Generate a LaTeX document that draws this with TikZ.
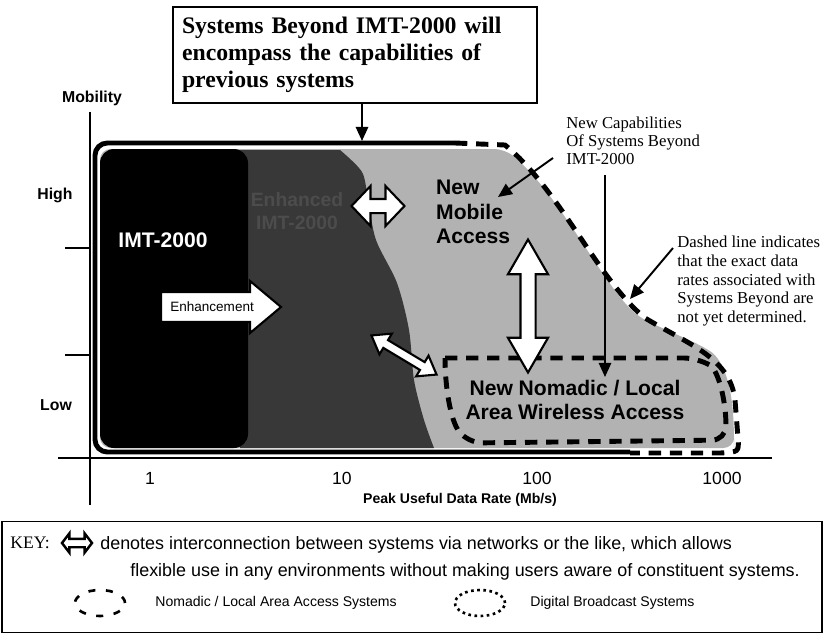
\documentclass[tikz,border=0pt]{standalone}
\usepackage{fontspec}
\setmainfont{Liberation Serif}
\setsansfont{Liberation Sans}
\usetikzlibrary{arrows.meta,shapes.arrows,shapes.geometric}

\tikzset{
  axislabel/.style={font=\sffamily\bfseries\fontsize{9}{10}\selectfont},
  ticklabel/.style={font=\sffamily\fontsize{10}{12}\selectfont},
  regionlabel/.style={font=\sffamily\bfseries\fontsize{12}{14}\selectfont},
  sidenote/.style={font=\fontsize{9.5}{10}\selectfont, align=left, inner sep=0pt},
  keytext/.style={font=\sffamily\fontsize{10.2}{11}\selectfont, anchor=west, inner sep=0pt},
  pointer/.style={line width=1.1pt, -{Triangle[length=8pt,width=7pt]}},
  beyonddash/.style={line width=2.8pt, dash pattern=on 7pt off 5pt},
  linkarrow/.style={double arrow, draw, fill=white, line width=1.2pt,
    inner xsep=0pt, minimum width=0pt}
}

\begin{document}
\begin{tikzpicture}[x=0.02cm, y=-0.02cm]
  \useasboundingbox (0,0) rectangle (829,640);

  % shaded areas
  \fill[black!30, rounded corners=6pt] (100,149) -- (505,149)
    .. controls (560,195) and (600,280) .. (640,318) -- (700,345)
    .. controls (725,360) and (733,390) .. (734,440) -- (734,448) -- (100,448) -- cycle;
  \fill[black!78] (240,150) -- plot[smooth] coordinates {(340,150) (362,172) (368,200)
    (376,240) (397,283) (409,330) (414,380) (424,420) (434,448)} -- (240,448) -- cycle;
  \fill[black, rounded corners=8pt] (100,149) rectangle (248,448);

  \node[font=\sffamily\bfseries\fontsize{12}{14}\selectfont, text=white] (imt) at (163,240) {IMT-2000};
  \node[font=\sffamily\bfseries\fontsize{11}{13}\selectfont, text=black!70, align=center] (enhanced) at (297,211) {Enhanced\\IMT-2000};
  \node[regionlabel, align=left, anchor=west] (mobileaccess) at (430,212) {New\\Mobile\\Access};
  \node[regionlabel, align=center] (nomadicaccess) at (575,400) {New Nomadic / Local\\Area Wireless Access};

  % outlines
  \draw[line width=2.8pt, rounded corners=7pt] (455,143) -- (95,143) -- (95,452) -- (630,452);
  \draw[beyonddash] (455,143) -- (505,145) .. controls (560,190) and (598,280) .. (645,318)
    .. controls (690,345) and (730,358) .. (735,400) -- (738,438)
    .. controls (739,452) .. (720,453) -- (630,453);
  \draw[beyonddash, rounded corners=8pt] (445,358) -- (698,358)
    .. controls (718,370) and (726,400) .. (726,440) -- (468,443)
    .. controls (450,420) and (445,385) .. (445,358);

  % white block arrows
  \node[single arrow, draw, fill=white, line width=1.2pt, anchor=tail, minimum height=2.4cm,
    inner xsep=2pt, inner ysep=0.18cm, single arrow head extend=0.22cm, single arrow tip angle=80,
    font=\sffamily\fontsize{7.7}{9}\selectfont] (enhancement) at (160,307) {Enhancement};
  \node[linkarrow, minimum height=1.06cm, inner ysep=0.12cm,
    double arrow head extend=0.26cm, double arrow tip angle=93] (mobilelink) at (378,206) {};
  \node[linkarrow, rotate=90, minimum height=2.66cm, inner ysep=0.13cm,
    double arrow head extend=0.25cm, double arrow tip angle=60] (accesslink) at (528,306) {};
  \node[linkarrow, rotate=-31, minimum height=1.52cm, inner ysep=0.07cm,
    double arrow head extend=0.15cm, double arrow tip angle=72] (nomadiclink) at (404,355) {};

  % title box
  \node[draw, line width=1.4pt, minimum width=7.28cm, minimum height=1.92cm, text width=6.92cm,
    inner xsep=0.18cm, align=left, font=\bfseries\fontsize{13.5}{15.2}\selectfont]
    (beyondbox) at (355,55) {Systems Beyond IMT-2000 will\\encompass the capabilities of\\previous systems};
  \coordinate (solidtop) at (362,141);
  \draw[pointer] (beyondbox.south -| solidtop) -- (solidtop);

  % side notes
  \node[sidenote, anchor=north west] (capnote) at (566,117) {New Capabilities\\Of Systems Beyond\\IMT-2000};
  \coordinate (captail) at (553,158);
  \coordinate (captip) at (498,197);
  \draw[pointer] (captail) -- (captip);
  \coordinate (nomadtip) at (605,377);
  \draw[pointer, shorten <=6pt] (capnote.south -| nomadtip) -- (nomadtip);

  \node[sidenote, font=\fontsize{9.5}{10.6}\selectfont, anchor=north west] (dashnote) at (677,236)
    {Dashed line indicates\\that the exact data\\rates associated with\\Systems Beyond are\\not yet determined.};
  \coordinate (dashtip) at (630,299);
  \draw[pointer] ([xshift=-0.08cm,yshift=-0.24cm]dashnote.north west) -- (dashtip);

  % axes
  \node[axislabel] (mobility) at (92,98) {Mobility};
  \node[axislabel] (high) at (55,195) {High};
  \node[axislabel] (low) at (56,405) {Low};
  \coordinate (ybottom) at (90,505);
  \draw[line width=1.2pt] (mobility.south -| ybottom) -- (ybottom);
  \coordinate (xleft) at (58,458);
  \coordinate (xright) at (772,458);
  \draw[line width=1.6pt] (xleft) -- (xright);
  \foreach \y in {248,355}
    \draw[line width=1.6pt] (65,\y) -- (90,\y);
  \foreach \x/\t in {150/1,342/10,537/100,722/1000}
    \node[ticklabel] (tick\t) at (\x,478) {\t};
  \node[axislabel, font=\sffamily\bfseries\fontsize{8}{10}\selectfont] (rate) at (460,500) {Peak Useful Data Rate (Mb/s)};

  % key
  \node[draw, line width=1pt, minimum width=16.4cm, minimum height=2.22cm] (keybox) at (412,577) {};
  \node[anchor=west, inner sep=0pt, font=\fontsize{10}{12}\selectfont] (keyword) at (10,543) {KEY:};
  \node[linkarrow, line width=1.4pt, minimum height=0.6cm, inner ysep=0.06cm,
    double arrow head extend=0.11cm, double arrow tip angle=105] (keylink) at (77,543) {};
  \node[keytext] (keyline1) at (100,545) {denotes interconnection between systems via networks or the like, which allows};
  \node[keytext] (keyline2) at (130,572) {flexible use in any environments without making users aware of constituent systems.};
  \node[ellipse, draw, line width=1.5pt, dash pattern=on 4pt off 6pt, minimum width=1cm, minimum height=0.52cm] (nomadicicon) at (100,603) {};
  \node[keytext, font=\sffamily\fontsize{8}{10}\selectfont] (nomadickey) at (155,603) {Nomadic / Local Area Access Systems};
  \node[ellipse, draw, line width=1.5pt, dotted, minimum width=1cm, minimum height=0.52cm] (broadcasticon) at (480,603) {};
  \node[keytext, font=\sffamily\fontsize{8}{10}\selectfont] (broadcastkey) at (530,603) {Digital Broadcast Systems};
\end{tikzpicture}
\end{document}
